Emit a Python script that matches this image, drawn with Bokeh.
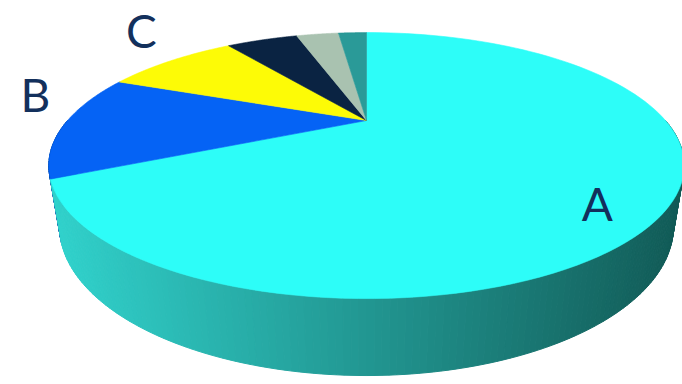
import numpy as np
from bokeh.plotting import figure
from bokeh.models import Range1d
from bokeh.core.properties import value
from bokeh.embed import file_html
from bokeh.resources import INLINE

# ---- data ----
categories = ["A", "B", "C", "D", "E", "F"]
shares = [68, 13, 9, 5, 3, 2]
top_colors = ["#2dfdf8", "#0563f5", "#fdfb06", "#0a2342", "#a9c2b0", "#2a9a98"]
side_colors = ["#2cc8c3", "#044aa8", "#b5b304", "#06172c", "#7a8c80", "#1e6e6c"]
shown_labels = ["A", "B", "C"]

# ---- layout / projection (styling) ----
W, H = 682, 384
CX, CY = 366.0, 120.0
FOC, DIST = 811.0, 2.713
PHI = np.radians(23.2)
DEPTH = 0.214
LABEL_PLACE = {"A": (-10.0, 0.844), "B": (-13.0, 1.22), "C": (-7.6, 1.447)}


def project(X, Y, Z):
    X = np.asarray(X, float); Y = np.asarray(Y, float); Z = np.asarray(Z, float)
    zc = DIST + Y * np.cos(PHI) - Z * np.sin(PHI)
    sx = CX + FOC * X / zc
    sy = CY - FOC * (Y * np.sin(PHI) + Z * np.cos(PHI)) / zc
    return sx, -sy  # plot y is negative screen y


total = float(sum(shares))
cum = np.concatenate([[0], np.cumsum(shares)])
starts = 90 - 360 * cum[:-1] / total
ends = 90 - 360 * cum[1:] / total

p = figure(width=W, height=H, output_backend="svg", toolbar_location=None,
           x_range=Range1d(0, W), y_range=Range1d(-H, 0),
           min_border=0, outline_line_color=None)
p.axis.visible = False
p.grid.visible = False
p.background_fill_color = "white"


def slice_of(theta):
    t = theta
    while t > 90:
        t -= 360
    while t <= -270:
        t += 360
    for i in range(len(shares)):
        if ends[i] <= t <= starts[i]:
            return i
    return 0


# side of the cylinder (front half)
c_light = np.array([50, 212, 206])
c_dark = np.array([18, 90, 86])
quads_x, quads_y, qcols, qdepth = [], [], [], []
step = 1.0
for a0 in np.arange(-180, 0, step):
    a1 = a0 + step
    th = np.radians([a0, a1])
    X = np.cos(th); Y = np.sin(th)
    tx, ty = project(X, Y, [0, 0])
    bx, by = project(X, Y, [-DEPTH, -DEPTH])
    xs = [tx[0], tx[1], bx[1], bx[0]]
    ys = [ty[0], ty[1], by[1], by[0]]
    i = slice_of(a0 + step / 2)
    mx = np.mean(xs)
    t = np.clip((mx - 47) / (685 - 47), 0, 1)
    if i == 0:
        c = c_light * (1 - t) + c_dark * t
        col = "#%02x%02x%02x" % tuple(int(v) for v in c)
    else:
        col = side_colors[i]
    quads_x.append(xs); quads_y.append(ys); qcols.append(col)
    qdepth.append(np.sin(np.radians(a0 + step / 2)))
order = np.argsort(qdepth)[::-1]
p.patches([quads_x[k] for k in order], [quads_y[k] for k in order],
          fill_color=[qcols[k] for k in order], line_color=[qcols[k] for k in order],
          line_width=1)

# top face slices
xs_all, ys_all = [], []
for i in range(len(shares)):
    th = np.radians(np.linspace(starts[i], ends[i], 120))
    X = np.concatenate([[0], np.cos(th)])
    Y = np.concatenate([[0], np.sin(th)])
    sx, sy = project(X, Y, np.zeros_like(X))
    xs_all.append(list(sx)); ys_all.append(list(sy))
p.patches(xs_all, ys_all, fill_color=top_colors, line_color=top_colors, line_width=0.6)

# labels
lx, ly, lt = [], [], []
for i, name in enumerate(categories):
    if name not in shown_labels:
        continue
    shift, r = LABEL_PLACE[name]
    mid = np.radians((starts[i] + ends[i]) / 2 + shift)
    sx, sy = project(r * np.cos(mid), r * np.sin(mid), 0)
    lx.append(float(sx)); ly.append(float(sy)); lt.append(name)
p.text(lx, ly, text=lt, text_font=value("Lato"), text_font_size="46px",
       text_color="#13305c", text_align="center", text_baseline="middle")

open("out.html", "w").write(file_html(p, INLINE))
